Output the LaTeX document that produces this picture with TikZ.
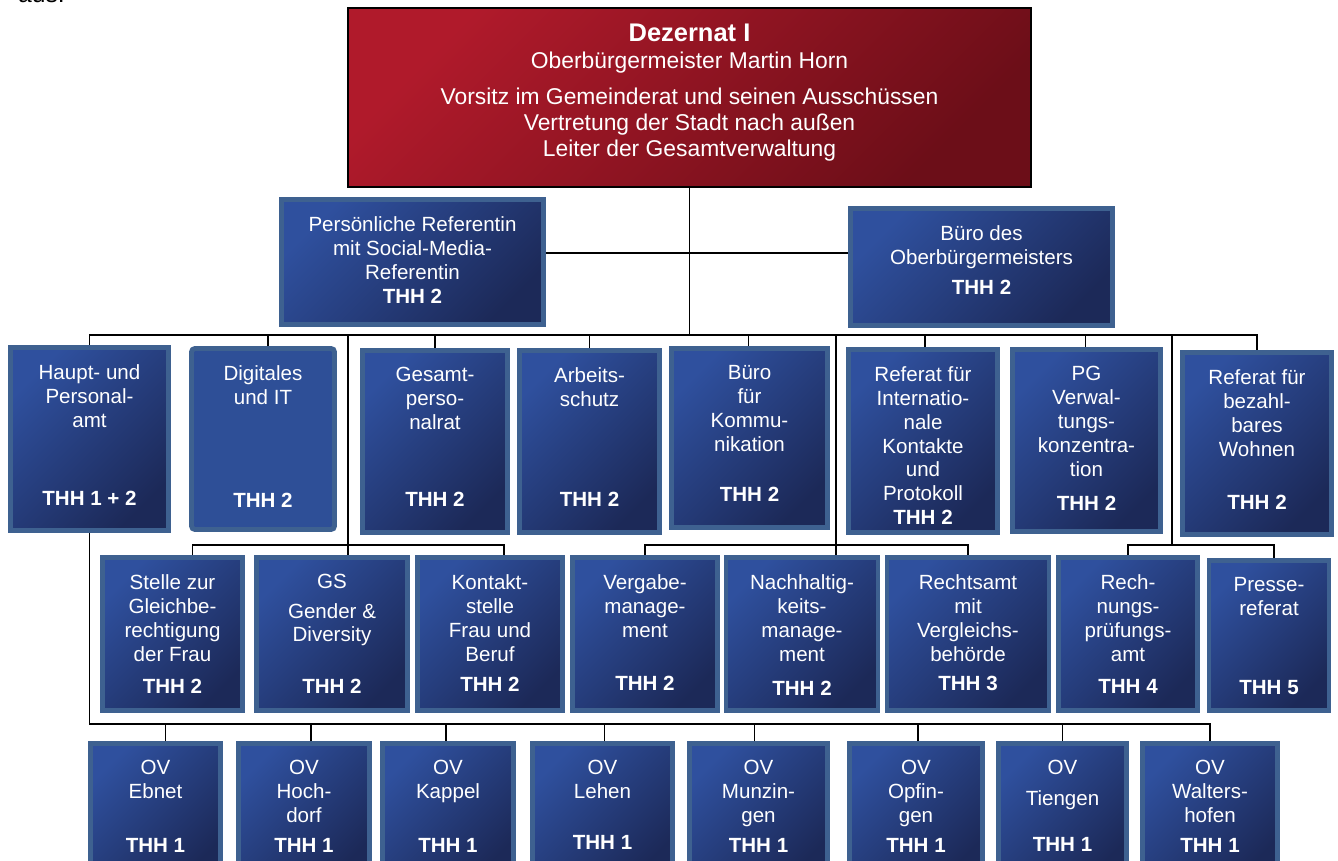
\documentclass[tikz,border=0pt]{standalone}
\usepackage{fontspec}
\setmainfont{Liberation Sans}
\usetikzlibrary{calc}

\definecolor{chieflight}{HTML}{B01A2B}
\definecolor{chiefdark}{HTML}{6C0E18}
\definecolor{unitlight}{HTML}{2F509E}
\definecolor{unitdark}{HTML}{1C2958}
\definecolor{unitframe}{HTML}{3E6190}
\definecolor{unitflat}{HTML}{2E4F97}

% one pixel of the chart
\newlength{\pxu}
\setlength{\pxu}{0.02cm}

% [style]{name}{position}{width}{height}{bottom gap}{lines}{THH}
\newcommand{\orgunit}[8][shaded]{%
  \node[unit, #1, minimum width=#4*0.02cm-0.1cm, minimum height=#5*0.02cm-0.1cm] (#2) at (#3)
    {\parbox[c][\dimexpr#5\pxu-5\pxu\relax][s]{\dimexpr#4\pxu-12\pxu\relax}%
      {\centering\vspace*{17\pxu}#7\par\vfill\textbf{#8}\par\vspace*{#6\pxu}}};}

\begin{document}
\begin{tikzpicture}[x=0.02cm, y=-0.02cm,
    unit/.style={draw=unitframe, line width=2.8pt, text=white, inner sep=0pt,
      font=\fontsize{11.7}{13.6}\selectfont},
    shaded/.style={top color=unitlight, bottom color=unitdark, shading angle=45},
    flat/.style={fill=unitflat, rounded corners=2pt},
    chief/.style={draw=black, line width=1.2pt, top color=chieflight, bottom color=chiefdark,
      shading angle=45, text=white, inner sep=0pt, font=\fontsize{13}{14.6}\selectfont},
    conn/.style={line width=1.1pt}]
  \useasboundingbox (0,0) rectangle (1338,861);
  \clip (0,0) rectangle (1338,861);

  \node[anchor=base west, font=\fontsize{14}{16}\selectfont] (aus) at (12,3) {aus:};

  \node[chief, minimum width=683*0.02cm, minimum height=179*0.02cm] (dezernat) at (689.5,97.5)
    {\parbox[c][179\pxu][t]{660\pxu}{\centering\vspace*{15.5\pxu}%
      {\fontsize{14.5}{16}\selectfont\bfseries Dezernat I}\\[1.2pt]
      Oberbürgermeister Martin Horn\\[6pt]
      Vorsitz im Gemeinderat und seinen Ausschüssen\\
      Vertretung der Stadt nach außen\\
      Leiter der Gesamtverwaltung}};

  \orgunit{pers}{412.5,262}{267}{130}{21.5}{Persönliche Referentin\\mit Social-Media-\\Referentin}{THH 2}
  \orgunit{bueroob}{981.5,267}{267}{122}{30.5}{Büro des\\Oberbürgermeisters}{THH 2}

  % second row
  \orgunit{haupt}{89.5,439}{163}{188}{25.5}{Haupt- und\\Personal-\\amt}{THH 1 + 2}
  \orgunit[flat]{digital}{263,439}{148}{186}{22.5}{Digitales\\und IT}{THH 2}
  \orgunit{gesamt}{435,441.5}{150}{187}{26.5}{Gesamt-\\perso-\\nalrat}{THH 2}
  \orgunit{arbeit}{589.5,441.5}{145}{187}{26.5}{Arbeits-\\schutz}{THH 2}
  \orgunit{kommun}{749.5,438}{161}{184}{26.5}{Büro\\für\\Kommu-\\nikation}{THH 2}
  \orgunit{intern}{923,441}{154}{188}{10}{Referat für\\Internatio-\\nale\\Kontakte\\und\\Protokoll}{THH 2}
  \orgunit{pg}{1086.5,440.5}{153}{187}{21.5}{PG\\Verwal-\\tungs-\\konzentra-\\tion}{THH 2}
  \orgunit{wohnen}{1257,443.5}{154}{187}{25.5}{Referat für\\bezahl-\\bares\\Wohnen}{THH 2}

  % third row
  \orgunit{gleich}{172.5,634}{145}{158}{17.5}{Stelle zur\\Gleichbe-\\rechtigung\\der Frau}{THH 2}
  \orgunit{gs}{332,634}{156}{158}{17.5}{GS\\[3pt]Gender \&\\Diversity}{THH 2}
  \orgunit{kontakt}{490,634}{150}{158}{19.5}{Kontakt-\\stelle\\Frau und\\Beruf}{THH 2}
  \orgunit{vergabe}{645,634}{150}{158}{20.5}{Vergabe-\\manage-\\ment}{THH 2}
  \orgunit{nachhalt}{802,634}{157}{158}{15.5}{Nachhaltig-\\keits-\\manage-\\ment}{THH 2}
  \orgunit{recht}{968,634}{167}{158}{19.5}{Rechtsamt\\mit\\Vergleichs-\\behörde}{THH 3}
  \orgunit{rechnung}{1128,634}{144}{158}{17.5}{Rech-\\nungs-\\prüfungs-\\amt}{THH 4}
  \orgunit{presse}{1269,635.5}{125}{155}{15.5}{Presse-\\referat}{THH 5}

  % Ortsverwaltungen
  \orgunit{ebnet}{155.5,811}{135}{140}{26.5}{OV\\Ebnet}{THH 1}
  \orgunit{hochdorf}{304,811}{136}{140}{26.5}{OV\\Hoch-\\dorf}{THH 1}
  \orgunit{kappel}{448,811}{136}{140}{26.5}{OV\\Kappel}{THH 1}
  \orgunit{lehen}{602.5,811}{145}{140}{29.5}{OV\\Lehen}{THH 1}
  \orgunit{munzingen}{758.5,811}{143}{140}{26.5}{OV\\Munzin-\\gen}{THH 1}
  \orgunit{opfingen}{916,811}{138}{140}{26.5}{OV\\Opfin-\\gen}{THH 1}
  \orgunit{tiengen}{1062.5,811}{133}{140}{27.5}{OV\\[4pt]Tiengen}{THH 1}
  \orgunit{walters}{1210,811}{140}{140}{26.5}{OV\\Walters-\\hofen}{THH 1}

  % bus lines
  \coordinate (side) at (0,253);
  \coordinate (b2) at (0,335);
  \coordinate (b3) at (0,545);
  \coordinate (b4) at (0,724);

  \draw[conn] (dezernat.south) -- (dezernat.south |- b2);
  \draw[conn] (pers.east |- side) -- (bueroob.west |- side);

  \draw[conn] (haupt.north) -- (haupt.north |- b2) -| (wohnen.north);
  \foreach \n/\dx in {digital/5, gesamt/0, arbeit/0, kommun/-1, intern/2, pg/-1} {
    \coordinate (drop) at ($(\n.north)+(\dx,0)$);
    \draw[conn] (drop) -- (drop |- b2);
  }

  \coordinate (gsin) at ($(gs.north)+(16,0)$);
  \coordinate (gleichin) at ($(gleich.north)+(20,0)$);
  \coordinate (kontaktin) at ($(kontakt.north)+(14,0)$);
  \draw[conn] (gsin |- b2) -- (gsin);
  \draw[conn] (gleichin) -- (gleichin |- b3) -- (kontaktin |- b3) -- (kontaktin);

  \coordinate (nachin) at ($(nachhalt.north)+(34,0)$);
  \draw[conn] (nachin |- b2) -- (nachin);
  \draw[conn] (vergabe.north) -- (vergabe.north |- b3) -| (recht.north);

  \coordinate (rpjoin) at (1172,545);
  \coordinate (pressein) at ($(presse.north)+(5,0)$);
  \draw[conn] (rpjoin |- b2) -- (rpjoin);
  \draw[conn] (rechnung.north) -- (rechnung.north |- b3) -| (pressein);

  \draw[conn] (haupt.south) -- (haupt.south |- b4) -| (walters.north);
  \foreach \n/\dx in {ebnet/10, hochdorf/7, kappel/-2, lehen/2, munzingen/-4, opfingen/2, tiengen/0} {
    \coordinate (drop) at ($(\n.north)+(\dx,0)$);
    \draw[conn] (drop) -- (drop |- b4);
  }
\end{tikzpicture}
\end{document}
